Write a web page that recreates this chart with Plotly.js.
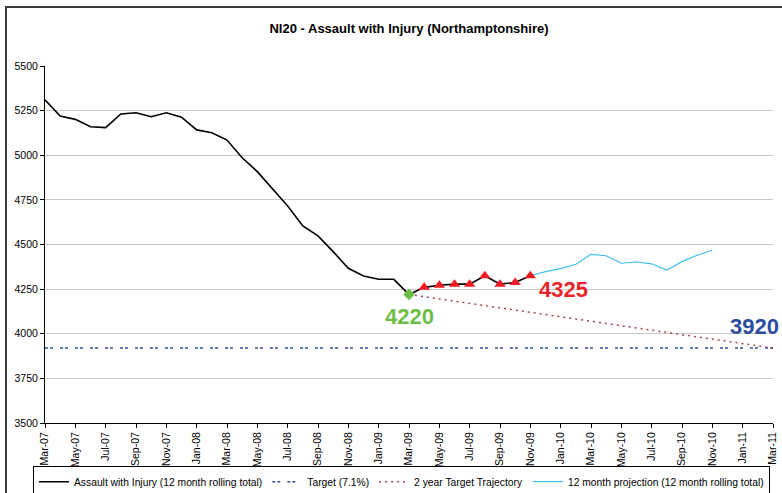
<!DOCTYPE html>
<html><head><meta charset="utf-8">
<script src="https://cdn.plot.ly/plotly-3.0.1.min.js"></script>
<style>
html,body{margin:0;padding:0;overflow:hidden;background:#fff;}
#wrap{position:relative;width:782px;height:493px;overflow:hidden;}
#chart{position:absolute;left:0;top:0;width:782px;height:493px;}
#frame{position:absolute;left:5px;top:6px;width:900px;height:600px;border:2px solid #3c3c3c;pointer-events:none;}
</style></head>
<body><div id="wrap"><div id="chart"></div><div id="frame"></div></div>
<script>
const months = ["Mar-07","Apr-07","May-07","Jun-07","Jul-07","Aug-07","Sep-07","Oct-07","Nov-07","Dec-07",
"Jan-08","Feb-08","Mar-08","Apr-08","May-08","Jun-08","Jul-08","Aug-08","Sep-08","Oct-08","Nov-08","Dec-08",
"Jan-09","Feb-09","Mar-09","Apr-09","May-09","Jun-09","Jul-09","Aug-09","Sep-09","Oct-09","Nov-09","Dec-09",
"Jan-10","Feb-10","Mar-10","Apr-10","May-10","Jun-10","Jul-10","Aug-10","Sep-10","Oct-10","Nov-10","Dec-10",
"Jan-11","Feb-11","Mar-11"];

const actualMonths = months.slice(0, 33);
const actual = [5310,5220,5201,5160,5155,5231,5238,5216,5238,5213,
5142,5126,5085,4986,4908,4815,4716,4604,4548,4460,4367,4324,
4305,4305,4220,4260,4272,4278,4278,4325,4278,4287,4325];

const triMonths = ["Apr-09","May-09","Jun-09","Jul-09","Aug-09","Sep-09","Oct-09","Nov-09"];
const triValues = [4260,4272,4278,4278,4325,4278,4287,4325];

const baseMonth = ["Mar-09"];
const baseValue = [4220];

const projMonths = ["Nov-09","Dec-09","Jan-10","Feb-10","Mar-10","Apr-10","May-10","Jun-10","Jul-10","Aug-10","Sep-10","Oct-10","Nov-10"];
const projection = [4325,4348,4365,4389,4445,4437,4395,4402,4392,4357,4404,4440,4468];

const targetValue = 3920;
const target = months.map(() => targetValue);

const trajMonths = ["Mar-09","Mar-11"];
const trajectory = [4220, 3920];

const yTicks = [3500,3750,4000,4250,4500,4750,5000,5250,5500];

const traces = [
 {x: actualMonths, y: actual, type:'scatter', mode:'lines', name:'Assault with Injury (12 month rolling total)',
  line:{color:'#000000', width:1.6}},
 {x: months, y: target, type:'scatter', mode:'lines', name:'Target (7.1%)',
  line:{color:'#2f4f9f', width:1.6, dash:'3px,2px,3px,7px'}},
 {x: trajMonths, y: trajectory, type:'scatter', mode:'lines', name:'2 year Target Trajectory',
  line:{color:'#a04848', width:1.5, dash:'2px,4px'}},
 {x: projMonths, y: projection, type:'scatter', mode:'lines', name:'12 month projection (12 month rolling total)',
  line:{color:'#3cc0ee', width:1.2}},
 {x: triMonths, y: triValues, type:'scatter', mode:'markers', showlegend:false,
  marker:{symbol:'triangle-up', size:10, color:'#ee1c24'}},
 {x: baseMonth, y: baseValue, type:'scatter', mode:'markers', showlegend:false,
  marker:{symbol:'diamond', size:9, color:'#6cbe45'}}
];

const layout = {
 width:782, height:493,
 margin:{l:45, r:9, t:66, b:70, autoexpand:false},
 paper_bgcolor:'rgba(0,0,0,0)', plot_bgcolor:'#ffffff',
 font:{family:'Liberation Sans, Arial, sans-serif', size:10.5, color:'#000'},
 title:{text:'<b>NI20 - Assault with Injury (Northamptonshire)</b>',
  font:{family:'Liberation Sans, Arial, sans-serif', size:13, color:'#000'},
  x:0.5, xanchor:'center', y:0.943, yanchor:'middle', xref:'paper'},
 xaxis:{type:'category', categoryorder:'array', categoryarray:months, automargin:false,
  range:[0, months.length-1], tickmode:'linear', tick0:0, dtick:2,
  tickangle:-90, ticks:'outside', ticklen:4, tickcolor:'#000', showline:true, linecolor:'#000', linewidth:1,
  showgrid:false, zeroline:false, tickfont:{size:10.5}},
 yaxis:{range:[3500,5500], tickmode:'array', tickvals:yTicks, ticktext:yTicks.map(String), automargin:false,
  ticks:'outside', ticklen:4, tickcolor:'#000', showline:true, linecolor:'#000', linewidth:1,
  showgrid:true, gridcolor:'#c8c8c8', gridwidth:1, zeroline:false, tickfont:{size:10.5}},
 showlegend:true,
 legend:{orientation:'h', x:-0.0165, xanchor:'left', y:-0.121, yanchor:'top',
  bordercolor:'#000', borderwidth:1, bgcolor:'#fff', font:{size:10.3}, traceorder:'normal'},
 annotations:[
  {x:24.05, y:4096, xref:'x', yref:'y', text:'<b>4220</b>', showarrow:false, font:{size:22, color:'#6cbe45'}},
  {x:34.2, y:4248, xref:'x', yref:'y', text:'<b>4325</b>', showarrow:false, font:{size:22, color:'#e8262b'}},
  {x:46.8, y:4041, xref:'x', yref:'y', text:'<b>3920</b>', showarrow:false, font:{size:22, color:'#2e4da0'}}
 ]
};

Plotly.newPlot('chart', traces, layout, {displayModeBar:false, staticPlot:true});
</script></body></html>
